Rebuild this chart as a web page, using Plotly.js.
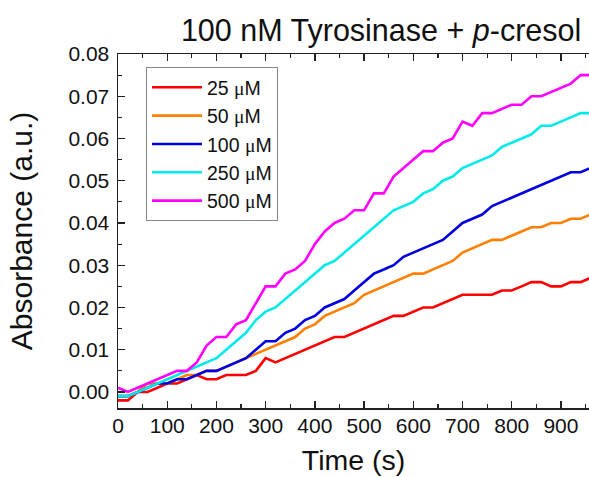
<!DOCTYPE html>
<html>
<head>
<meta charset="utf-8">
<script src="https://cdn.plot.ly/plotly-3.0.1.min.js"></script>
<style>html,body{margin:0;padding:0;background:#fff;}</style>
</head>
<body>
<div id="chart" style="width:589px;height:477px;"></div>
<script>
// time axis (s)
const time = [0,20,40,60,80,100,120,140,160,180,200,220,240,260,280,300,320,340,360,380,400,420,440,460,480,500,520,540,560,580,600,620,640,660,680,700,720,740,760,780,800,820,840,860,880,900,920,940,960];

const seriesNames = ["25", "50", "100", "250", "500"];

const abs25 = [-0.002,-0.002,0.000,0.000,0.001,0.002,0.002,0.003,0.004,0.003,0.003,0.004,0.004,0.004,0.005,0.008,0.007,0.008,0.009,0.010,0.011,0.012,0.013,0.013,0.014,0.015,0.016,0.017,0.018,0.018,0.019,0.020,0.020,0.021,0.022,0.023,0.023,0.023,0.023,0.024,0.024,0.025,0.026,0.026,0.025,0.025,0.026,0.026,0.027];

const abs50 = [-0.001,-0.001,0.000,0.002,0.002,0.002,0.003,0.004,0.004,0.005,0.005,0.006,0.007,0.008,0.009,0.010,0.011,0.012,0.013,0.015,0.016,0.018,0.019,0.020,0.021,0.023,0.024,0.025,0.026,0.027,0.028,0.028,0.029,0.030,0.031,0.033,0.034,0.035,0.036,0.036,0.037,0.038,0.039,0.039,0.040,0.040,0.041,0.041,0.042];

const abs100 = [-0.001,-0.001,0.000,0.001,0.002,0.002,0.003,0.003,0.004,0.005,0.005,0.006,0.007,0.008,0.010,0.012,0.012,0.014,0.015,0.017,0.018,0.020,0.021,0.022,0.024,0.026,0.028,0.029,0.030,0.032,0.033,0.034,0.035,0.036,0.038,0.040,0.041,0.042,0.044,0.045,0.046,0.047,0.048,0.049,0.050,0.051,0.052,0.052,0.053];

const abs250 = [-0.001,-0.001,0.000,0.001,0.002,0.003,0.004,0.005,0.006,0.007,0.008,0.010,0.012,0.014,0.017,0.019,0.020,0.022,0.024,0.026,0.028,0.030,0.031,0.033,0.035,0.037,0.039,0.041,0.043,0.044,0.045,0.047,0.048,0.050,0.051,0.053,0.054,0.055,0.056,0.058,0.059,0.060,0.061,0.063,0.063,0.064,0.065,0.066,0.066];

const abs500 = [0.001,0.000,0.001,0.002,0.003,0.004,0.005,0.005,0.007,0.011,0.013,0.013,0.016,0.017,0.021,0.025,0.025,0.028,0.029,0.031,0.035,0.038,0.040,0.041,0.043,0.043,0.047,0.047,0.051,0.053,0.055,0.057,0.057,0.059,0.060,0.064,0.063,0.066,0.066,0.067,0.068,0.068,0.070,0.070,0.071,0.072,0.073,0.075,0.075];

const xTickVals = [0,100,200,300,400,500,600,700,800,900];
const yTickVals = [0.00,0.01,0.02,0.03,0.04,0.05,0.06,0.07,0.08];

const colors = ["#ff0000", "#ff8000", "#0000e0", "#00eaea", "#ff00ff"];
const values = [abs25, abs50, abs100, abs250, abs500];

const mu = "<span style=\"font-family:'Liberation Serif','DejaVu Serif',serif\">\u03bc</span>";

const traces = values.map((v, i) => ({
  x: time,
  y: v,
  type: "scatter",
  mode: "lines",
  name: seriesNames[i] + " " + mu + "M",
  line: {color: colors[i], width: 2.6, shape: "linear"}
}));

const font = "'Liberation Sans', Arial, sans-serif";

const layout = {
  width: 589,
  height: 477,
  margin: {l: 118, r: 0, t: 54, b: 69},
  paper_bgcolor: "#ffffff",
  plot_bgcolor: "#ffffff",
  font: {family: font, color: "#111111"},
  title: {
    text: "100 nM Tyrosinase + <i>p</i>-cresol",
    font: {family: font, size: 30.5, color: "#111111"},
    xref: "container", x: 0.647, xanchor: "center",
    yref: "container", y: 0.937, yanchor: "middle"
  },
  xaxis: {
    range: [0, 957],
    tickvals: xTickVals,
    ticktext: xTickVals.map(String),
    ticks: "inside",
    ticklen: 7,
    tickwidth: 1.3,
    tickcolor: "#222",
    showline: true,
    linecolor: "#222",
    linewidth: 1.5,
    mirror: "ticks",
    showgrid: false,
    zeroline: false,
    ticklabelstandoff: -2,
    tickfont: {family: font, size: 21, color: "#111"},
    minor: {dtick: 50, tick0: 0, ticks: "inside", ticklen: 4, tickwidth: 1.2, tickcolor: "#222", showgrid: false},
    title: {text: "Time (s)", font: {family: font, size: 28.5, color: "#111"}, standoff: 14}
  },
  yaxis: {
    range: [-0.0038, 0.08],
    tickvals: yTickVals,
    ticktext: yTickVals.map(v => v.toFixed(2)),
    ticks: "inside",
    ticklen: 7,
    tickwidth: 1.3,
    tickcolor: "#222",
    showline: true,
    linecolor: "#222",
    linewidth: 1.5,
    mirror: false,
    showgrid: false,
    zeroline: false,
    ticklabelstandoff: 3,
    tickfont: {family: font, size: 21, color: "#111"},
    minor: {dtick: 0.005, tick0: 0, ticks: "inside", ticklen: 4, tickwidth: 1.2, tickcolor: "#222", showgrid: false},
    title: {text: "Absorbance (a.u.)", font: {family: font, size: 30, color: "#111"}, standoff: 27}
  },
  showlegend: true,
  legend: {
    x: 0.0594, y: 0.963, xanchor: "left", yanchor: "top",
    bgcolor: "#ffffff",
    bordercolor: "#888888",
    borderwidth: 1,
    font: {family: font, size: 19.5, color: "#111"},
    tracegroupgap: 0,
    itemwidth: 50,
    entrywidthmode: "pixels",
    entrywidth: 136
  }
};

Plotly.newPlot("chart", traces, layout, {displayModeBar: false, staticPlot: true});
</script>
</body>
</html>
